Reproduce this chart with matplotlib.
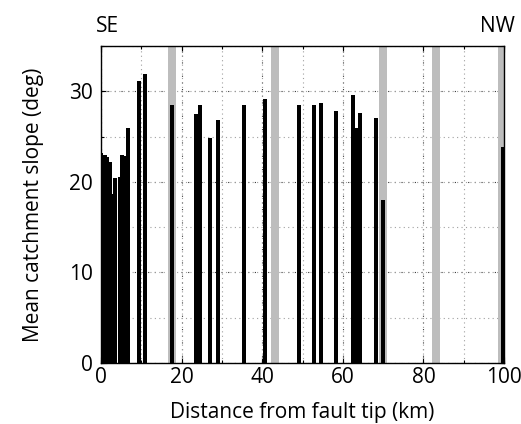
import matplotlib
matplotlib.use("Agg")
import matplotlib.pyplot as plt
from matplotlib.ticker import MultipleLocator

# Catchment centroid distance along fault (km) and mean slope (deg)
catch_dist = [0.0, 1.0, 1.5, 2.2, 2.5, 3.5, 4.7, 5.2, 5.7, 6.7,
              9.35, 10.9, 17.55, 23.55, 24.55, 27.1, 29.0, 35.5, 40.65,
              49.05, 52.9, 54.65, 58.35, 62.55, 63.2, 64.25, 68.2, 70.0, 99.65]
catch_slope = [23.2, 23.0, 22.7, 22.2, 18.7, 20.4, 20.5, 23.0, 22.8, 25.9,
               31.1, 31.9, 28.5, 27.5, 28.5, 24.8, 26.8, 28.5, 29.1,
               28.5, 28.5, 28.7, 27.8, 29.6, 25.9, 27.6, 27.0, 18.0, 23.8]
# Shaded zones (km along fault)
zone_start = [16.6, 42.1, 69.0, 82.1, 98.5]
zone_end = [18.5, 44.2, 70.9, 84.1, 100.0]

xticks = [0, 20, 40, 60, 80, 100]
yticks = [0, 10, 20, 30]

plt.rcParams['font.family'] = ['Open Sans', 'DejaVu Sans']

fig = plt.figure(figsize=(5.21, 4.24), dpi=100)
ax = fig.add_axes([101/521, 1 - 363/424, 403/521, 317/424])

for s, e in zip(zone_start, zone_end):
    ax.axvspan(s, e, color='#bdbdbd', lw=0, zorder=1)

ax.bar(catch_dist, catch_slope, width=1.0, color='black',
       edgecolor='none', linewidth=0, zorder=3)

ax.set_xlim(0, 100)
ax.set_ylim(0, 35)
ax.set_xticks(xticks)
ax.set_yticks(yticks)
ax.xaxis.set_minor_locator(MultipleLocator(10))
ax.yaxis.set_minor_locator(MultipleLocator(5))
ax.xaxis.remove_overlapping_locs = False
ax.yaxis.remove_overlapping_locs = False

ax.grid(which='minor', linestyle=(0, (1, 3)), color='#a0a0a0', lw=0.8, zorder=2)
ax.grid(which='major', linestyle=(0, (1, 5)), color='#333333', lw=0.8, zorder=2)
ax.set_axisbelow(True)

ax.tick_params(which='both', direction='in', top=True, right=True,
               labelsize=15, length=4, width=0.8)
ax.tick_params(axis='x', pad=3)
ax.tick_params(axis='y', pad=6)
ax.tick_params(which='minor', length=2.5)
for sp in ax.spines.values():
    sp.set_linewidth(1.0)

ax.set_xlabel('Distance from fault tip (km)', fontsize=15, labelpad=10)
ax.set_ylabel('Mean catchment slope (deg)', fontsize=15, labelpad=18)

ax.text(1.7, 1.06, 'SE', transform=ax.get_xaxis_transform(), ha='center',
        va='center', fontsize=15)
ax.text(98.3, 1.06, 'NW', transform=ax.get_xaxis_transform(), ha='center',
        va='center', fontsize=15)

fig.savefig('out.png', dpi=100)
